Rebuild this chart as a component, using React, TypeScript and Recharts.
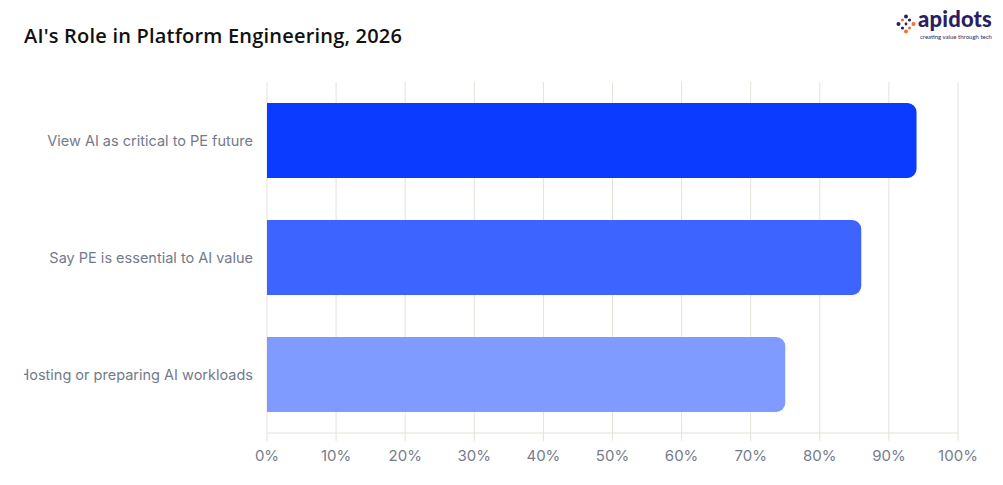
import React from "react";
import { BarChart, Bar, XAxis, YAxis, CartesianGrid, Cell } from "recharts";

const categories = [
  "View AI as critical to PE future",
  "Say PE is essential to AI value",
  "Hosting or preparing AI workloads",
];
const values = [94, 86, 75];
const barColors = ["#0b3bff", "#3e64ff", "#7f9bff"];
const xTicks = [0, 10, 20, 30, 40, 50, 60, 70, 80, 90, 100];

const data = categories.map((name, i) => ({ name, value: values[i] }));

const Logo = () => (
  <div style={{ position: "absolute", left: 888, top: 0, width: 105, height: 36 }}>
    <svg width="20" height="20" viewBox="0 0 20 20" style={{ position: "absolute", left: 0, top: 6 }}>
      <circle cx="10" cy="2.5" r="2" fill="#2b1f63" />
      <circle cx="6.5" cy="6" r="1.6" fill="#e8742f" />
      <circle cx="13.5" cy="6" r="1.6" fill="#2b1f63" />
      <circle cx="2.5" cy="10" r="2" fill="#2b1f63" />
      <circle cx="17.5" cy="10" r="2" fill="#e8742f" />
      <circle cx="6.5" cy="14" r="1.6" fill="#2b1f63" />
      <circle cx="13.5" cy="14" r="1.6" fill="#e8742f" />
      <circle cx="10" cy="17.5" r="2" fill="#e8742f" />
      <circle cx="10" cy="10" r="1.4" fill="#2b1f63" />
    </svg>
    <div
      style={{
        position: "absolute",
        left: 22,
        top: -1,
        fontFamily: "Lato, sans-serif",
        fontWeight: 900,
        fontSize: 22,
        lineHeight: "24px",
        color: "#2b1f63",
        letterSpacing: 0.2,
      }}
    >
      apidots
    </div>
    <div
      style={{
        position: "absolute",
        left: 24,
        top: 25,
        fontFamily: "Lato, sans-serif",
        fontSize: 6,
        lineHeight: "7px",
        color: "#2b1f63",
        whiteSpace: "nowrap",
      }}
    >
      creating value through tech
    </div>
  </div>
);

export default function App() {
  return (
    <div style={{ position: "relative", width: 987, height: 469, background: "#ffffff" }}>
      <div
        style={{
          position: "absolute",
          left: 16,
          top: 15,
          fontFamily: "'Open Sans', sans-serif",
          fontWeight: 600,
          fontSize: 20,
          lineHeight: "26px",
          color: "#111111",
          whiteSpace: "nowrap",
          letterSpacing: 0.2,
        }}
      >
        AI's Role in Platform Engineering, 2026
      </div>
      <Logo />
      <div style={{ position: "absolute", left: 16, top: 54 }}>
        <BarChart
          width={960}
          height={407}
          data={data}
          layout="vertical"
          margin={{ top: 20, right: 26, bottom: 0, left: 0 }}
        >
          <CartesianGrid horizontal={false} vertical={true} stroke="#e6e1d9" />
          <XAxis
            type="number"
            domain={[0, 100]}
            ticks={xTicks}
            tickFormatter={(v) => `${v}%`}
            height={36}
            tickSize={8}
            tickMargin={9}
            axisLine={{ stroke: "#e6e1d9" }}
            tickLine={{ stroke: "#e6e1d9" }}
            tick={{ fill: "#767c8e", fontSize: 15, fontFamily: "Inter, sans-serif" }}
            interval={0}
          />
          <YAxis
            type="category"
            dataKey="name"
            width={243}
            axisLine={false}
            tickLine={false}
            tickSize={6}
            tickMargin={8}
            tick={{ fill: "#737a8c", fontSize: 14.5, fontFamily: "Inter, sans-serif" }}
            interval={0}
          />
          <Bar dataKey="value" barSize={75} radius={[0, 9, 9, 0]} isAnimationActive={false}>
            {data.map((d, i) => (
              <Cell key={d.name} fill={barColors[i]} />
            ))}
          </Bar>
        </BarChart>
      </div>
    </div>
  );
}
